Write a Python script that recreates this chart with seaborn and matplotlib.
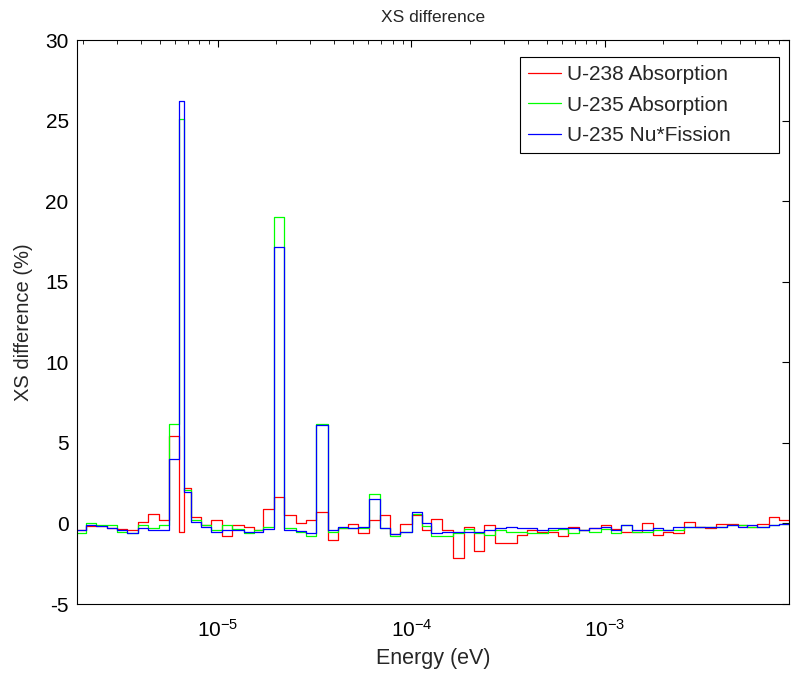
import numpy as np
import pandas as pd
import matplotlib
matplotlib.use("Agg")
import matplotlib.pyplot as plt
import seaborn as sns
from matplotlib.ticker import LogLocator, NullFormatter, FixedLocator

# ---------------- data ----------------
energy_edges_ev = [
    1.866e-6, 2.07e-6, 2.331e-6, 2.658e-6, 2.995e-6, 3.373e-6, 3.873e-6, 4.361e-6,
    4.97e-6, 5.6e-6, 6.307e-6, 6.693e-6, 7.25e-6, 8.166e-6, 9.2e-6, 1.052e-5,
    1.186e-5, 1.358e-5, 1.53e-5, 1.715e-5, 1.955e-5, 2.202e-5, 2.531e-5, 2.851e-5,
    3.212e-5, 3.691e-5, 4.158e-5, 4.684e-5, 5.314e-5, 6.037e-5, 6.906e-5, 7.779e-5,
    8.763e-5, 1.004e-4, 1.131e-4, 1.268e-4, 1.445e-4, 1.635e-4, 1.877e-4, 2.114e-4,
    2.382e-4, 2.706e-4, 3.073e-4, 3.504e-4, 3.947e-4, 4.446e-4, 5.105e-4, 5.708e-4,
    6.43e-4, 7.383e-4, 8.318e-4, 9.524e-4, 1.073e-3, 1.213e-3, 1.388e-3, 1.563e-3,
    1.781e-3, 2.007e-3, 2.261e-3, 2.577e-3, 2.927e-3, 3.297e-3, 3.758e-3, 4.269e-3,
    4.866e-3, 5.455e-3, 6.144e-3, 7.063e-3, 7.956e-3, 8.963e-3,
]

u238_absorption = [
    -0.40, -0.17, -0.17, -0.27, -0.37, -0.43, 0.08, 0.60, 0.23, 5.40,
    -0.54, 2.23, 0.39, -0.12, 0.19, -0.80, -0.12, -0.23, -0.43, 0.91,
    1.63, 0.50, 0.00, 0.19, 0.74, -1.01, -0.29, -0.02, -0.60, 0.19,
    0.50, -0.66, -0.02, 0.54, -0.40, 0.29, -0.40, -2.13, -0.21, -1.74,
    -0.10, -1.22, -1.22, -0.70, -0.40, -0.54, -0.54, -0.80, -0.23, -0.43,
    -0.29, -0.08, -0.33, -0.54, -0.50, 0.00, -0.70, -0.54, -0.60, 0.08,
    -0.19, -0.29, -0.02, -0.02, -0.08, -0.19, -0.02, 0.39, 0.19,
]

u235_absorption = [
    -0.58, 0.00, -0.08, -0.12, -0.50, -0.58, -0.12, -0.29, -0.12, 6.20,
    25.10, 2.09, 0.19, -0.12, -0.43, -0.12, -0.33, -0.60, -0.43, -0.23,
    19.00, -0.29, -0.50, -0.80, 6.20, -0.50, -0.29, -0.29, -0.29, 1.82,
    -0.29, -0.79, -0.50, 0.60, -0.17, -0.80, -0.80, -0.60, -0.33, -0.60,
    -0.70, -0.40, -0.50, -0.50, -0.60, -0.60, -0.43, -0.33, -0.60, -0.43,
    -0.50, -0.33, -0.60, -0.08, -0.50, -0.50, -0.40, -0.43, -0.40, -0.19,
    -0.19, -0.19, -0.19, -0.08, -0.12, -0.19, -0.19, -0.08, -0.04,
]

u235_nu_fission = [
    -0.40, -0.08, -0.17, -0.29, -0.43, -0.58, -0.29, -0.40, -0.40, 4.00,
    26.20, 1.98, 0.08, -0.19, -0.50, -0.43, -0.43, -0.50, -0.50, -0.33,
    17.15, -0.40, -0.45, -0.60, 6.10, -0.40, -0.19, -0.29, -0.19, 1.53,
    -0.29, -0.66, -0.50, 0.70, 0.02, -0.60, -0.50, -0.50, -0.50, -0.50,
    -0.40, -0.29, -0.19, -0.29, -0.29, -0.40, -0.29, -0.29, -0.29, -0.43,
    -0.29, -0.19, -0.40, -0.08, -0.40, -0.40, -0.29, -0.40, -0.23, -0.19,
    -0.19, -0.19, -0.19, -0.08, -0.19, -0.08, -0.19, -0.08, -0.04,
]

series_labels = ["U-238 Absorption", "U-235 Absorption", "U-235 Nu*Fission"]
series_values = [u238_absorption, u235_absorption, u235_nu_fission]
series_colors = ["#ff0000", "#00ff00", "#0000ff"]
y_ticks = [-5, 0, 5, 10, 15, 20, 25, 30]

# ---------------- long-form table for seaborn (stairs) ----------------
rows = []
for name, vals in zip(series_labels, series_values):
    for e, v in zip(energy_edges_ev[:-1], vals):
        rows.append((name, e, v))
    rows.append((name, energy_edges_ev[-1], vals[-1]))
df = pd.DataFrame(rows, columns=["series", "energy", "diff"])

# ---------------- figure ----------------
sns.set_style("white")
plt.rcParams["font.family"] = ["Liberation Sans", "DejaVu Sans"]
plt.rcParams["mathtext.default"] = "regular"
plt.rcParams["axes.unicode_minus"] = False

fig = plt.figure(figsize=(7.91, 6.77), dpi=100)
ax = fig.add_axes([0.0973, 0.1078, 0.9002, 0.8331])

sns.lineplot(
    data=df, x="energy", y="diff", hue="series",
    hue_order=series_labels, palette=series_colors,
    drawstyle="steps-post", estimator=None, sort=False,
    linewidth=0.9, ax=ax,
)

ax.set_xscale("log")
ax.set_xlim(energy_edges_ev[0], energy_edges_ev[-1])
ax.set_ylim(y_ticks[0], y_ticks[-1])
ax.yaxis.set_major_locator(FixedLocator(y_ticks))
ax.xaxis.set_major_locator(LogLocator(base=10, numticks=20))
ax.xaxis.set_minor_locator(LogLocator(base=10, subs=np.arange(2, 10), numticks=20))
ax.xaxis.set_minor_formatter(NullFormatter())

for sp in ax.spines.values():
    sp.set_visible(True)
    sp.set_color("black")
    sp.set_linewidth(0.8)

ax.tick_params(which="both", direction="in", top=True, right=True,
               colors="black", labelsize=15)
ax.tick_params(which="major", length=5, width=0.8, pad=6)
ax.tick_params(which="minor", length=3, width=0.6)
ax.tick_params(axis="x", which="major", pad=11)

ax.set_title("XS difference", fontsize=12.5, pad=13)
ax.set_xlabel("Energy (eV)", fontsize=15.5, labelpad=5)
ax.set_ylabel("XS difference (%)", fontsize=14.5, labelpad=9)

handles, labels = ax.get_legend_handles_labels()
leg = ax.legend(
    handles, labels, loc="upper left", mode="expand",
    bbox_to_anchor=(0.622, 0.80, 0.364, 0.17),
    frameon=True, fancybox=False, framealpha=1, edgecolor="black",
    fontsize=15, handlelength=1.6, handletextpad=0.3, labelspacing=0.56,
    borderpad=0.38, borderaxespad=0.0,
)
leg.get_frame().set_linewidth(0.8)
for h in leg.get_lines():
    h.set_linewidth(0.9)

fig.savefig("out.png", dpi=100, facecolor="white")
